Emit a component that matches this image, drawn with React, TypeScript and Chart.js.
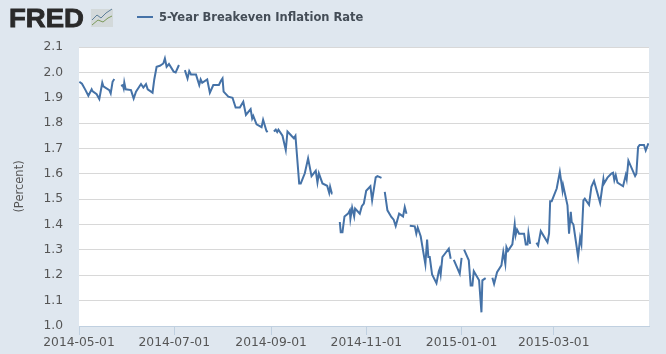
import React, { useEffect, useRef } from "react";
import { Chart, registerables } from "chart.js";

Chart.register(...registerables);

const seriesName = "5-Year Breakeven Inflation Rate";
const yTitle = "(Percent)";
const brand = "FRED";
const tickDays = [0, 61, 123, 184, 245, 304];
const tickLabels = ["2014-05-01", "2014-07-01", "2014-09-01", "2014-11-01", "2015-01-01", "2015-03-01"];

// [days since 2014-05-01, percent]; a null value breaks the line
const seg1 = [[0.2,1.963],[1.9,1.955],[4,1.932],[6,1.908],[8.1,1.933],[8.6,1.926],[11.3,1.914],[13,1.895],[14.9,1.959],[15.6,1.945],[19.4,1.93],[20.3,1.917],[21.5,1.963],[22.6,1.974]];
const seg2 = [[26.9,1.947],[28,1.95],[28.6,1.937],[29,1.96],[29.9,1.933],[33.3,1.93],[35,1.897],[36.5,1.924],[39.7,1.954],[41.2,1.94],[42.9,1.954],[44,1.933],[47.1,1.92],[48.2,1.972],[49.7,2.022],[51.8,2.026],[54,2.035],[55,2.055],[56.1,2.022],[57.6,2.033],[60.6,2.003],[61.9,2.0],[64,2.029]];
const seg3 = [[67.8,2.009],[69.5,1.976],[70.6,2.005],[71.7,1.992],[74.9,1.992],[77,1.95],[77.9,1.972],[78.9,1.959],[82.1,1.972],[83.8,1.92],[86,1.95],[89.6,1.95],[90.9,1.967],[91.9,1.976],[92.6,1.924],[95.6,1.904],[98.3,1.9],[100.3,1.861],[103,1.861],[105.2,1.884],[106.9,1.832],[109.9,1.855],[110.9,1.818],[111.6,1.828],[113.7,1.795],[116.9,1.784],[117.9,1.813],[120,1.77],[120.7,1.764]];
const seg4 = [[124.8,1.767],[126,1.774],[126.9,1.765],[127.7,1.774],[130.3,1.75],[132.4,1.694],[133.5,1.767],[136.5,1.747],[137.6,1.74],[138.6,1.75],[141,1.562],[142,1.562],[144.6,1.602],[146.7,1.661],[148.9,1.591],[151.6,1.612],[152.7,1.566],[153.6,1.602],[155.9,1.562],[158.9,1.553],[160.2,1.525],[160.8,1.549],[161.9,1.522],[162.3,1.522]];
const seg5 = [[167,1.41],[167.6,1.37],[168.7,1.37],[170,1.432],[172.3,1.443],[173.4,1.456],[173.8,1.423],[174.9,1.467],[176.2,1.432],[176.8,1.463],[179.8,1.443],[181.1,1.472],[182.4,1.483],[183.9,1.533],[186.6,1.551],[187.7,1.496],[190,1.586],[191.1,1.591],[193.7,1.584]];
const seg6 = [[195.8,1.529],[197.5,1.456],[200,1.43],[201.5,1.419],[202.8,1.394],[205,1.443],[207.5,1.432],[208.6,1.469],[209.7,1.443]];
const seg7 = [[211.8,1.395],[215,1.393],[216,1.364],[216.9,1.388],[218.8,1.354],[220.3,1.298],[221.8,1.243],[222.9,1.341],[223.7,1.272],[224.6,1.272],[226.1,1.203],[228.9,1.169],[230.4,1.216],[231,1.226],[231.6,1.203],[232.7,1.272],[236.8,1.305],[238,1.265]];
const seg8 = [[240,1.261],[243.8,1.206],[245,1.269]];
const seg9 = [[246.6,1.301],[249.6,1.259],[250.8,1.16],[251.9,1.16],[252.8,1.216],[256.2,1.18],[257.7,1.054],[258.3,1.18],[260.4,1.189]];
const seg10 = [[264.7,1.19],[265.8,1.166],[267.7,1.212],[270.5,1.239],[271.7,1.292],[273,1.245],[273.7,1.311],[274.7,1.296],[277.5,1.322],[279,1.401],[279.6,1.358],[280.5,1.38],[281.8,1.364],[285,1.364],[286.1,1.321],[287.2,1.321],[287.8,1.367],[288.9,1.324]];
const seg11 = [[292.9,1.328],[294,1.317],[295.7,1.374],[300,1.33],[301,1.364],[301.7,1.492],[302.7,1.492],[305.9,1.542],[307.9,1.608],[309.6,1.535],[310,1.555],[312.8,1.476],[313.8,1.364],[314.9,1.45],[315.5,1.41],[316.6,1.4],[319.6,1.273],[320.9,1.347],[321.7,1.323],[323,1.495],[323.9,1.502],[326.6,1.478],[328.1,1.549],[329.8,1.572],[333.7,1.486],[335.8,1.579],[336.2,1.562],[338.4,1.585],[340.9,1.601],[342,1.604],[342.8,1.575],[343.7,1.595],[344.8,1.565],[348.4,1.551],[350.1,1.595],[350.7,1.579],[351.8,1.652],[356.1,1.591],[356.9,1.6],[358,1.705],[359,1.714],[361.8,1.714],[362.9,1.692],[364.6,1.72]];
const segments = [seg1, seg2, seg3, seg4, seg5, seg6, seg7, seg8, seg9, seg10, seg11];

const points: { x: number; y: number | null }[] = [];
segments.forEach((s) => {
  s.forEach(([x, y]) => points.push({ x, y }));
  points.push({ x: s[s.length - 1][0] + 0.1, y: null });
});

const LINE = "#4572a7";
const BG = "#dfe7ef";
const TEXT = "#555555";
const FONT = "'DejaVu Sans'";

const header = {
  id: "header",
  afterDraw(chart: any) {
    const c = chart.ctx;
    c.save();
    c.textBaseline = "alphabetic";
    c.textAlign = "left";
    c.save();
    c.fillStyle = "#2a2a2a";
    c.strokeStyle = "#2a2a2a";
    c.lineWidth = 0.8;
    c.font = "bold 26.5px 'Liberation Sans'";
    c.translate(9, 27);
    c.scale(1.04, 1);
    c.fillText(brand, 0, 0);
    c.strokeText(brand, 0, 0);
    c.restore();
    // small chart icon next to the wordmark
    c.fillStyle = "#d3d9da";
    c.fillRect(91, 9, 22, 18);
    c.lineWidth = 1;
    c.strokeStyle = "#5d7f9a";
    c.beginPath();
    c.moveTo(92, 20); c.lineTo(97, 15); c.lineTo(101, 18); c.lineTo(106, 13); c.lineTo(112, 9);
    c.stroke();
    c.strokeStyle = "#7c9a5a";
    c.beginPath();
    c.moveTo(92, 25); c.lineTo(98, 20); c.lineTo(103, 22); c.lineTo(108, 18); c.lineTo(112, 16);
    c.stroke();
    c.strokeStyle = LINE;
    c.lineWidth = 2;
    c.beginPath();
    c.moveTo(137, 17); c.lineTo(153, 17);
    c.stroke();
    c.fillStyle = "#444d57";
    c.font = `bold 11.5px ${FONT}`;
    c.fillText(seriesName, 159, 21);
    c.restore();
  },
};

export default function App() {
  const ref = useRef<HTMLCanvasElement | null>(null);
  useEffect(() => {
    document.body.style.margin = "0";
    document.body.style.background = BG;
    const chart = new Chart(ref.current as HTMLCanvasElement, {
      type: "line",
      data: {
        datasets: [
          {
            label: seriesName,
            data: points as any,
            borderColor: LINE,
            borderWidth: 2,
            pointRadius: 0,
            spanGaps: false,
            tension: 0,
          },
        ],
      },
      options: {
        animation: false,
        responsive: false,
        parsing: false as any,
        layout: { padding: { top: 47, right: 17, left: 0, bottom: 0 } },
        plugins: { legend: { display: false }, tooltip: { enabled: false }, title: { display: false } },
        scales: {
          x: {
            type: "linear",
            min: 0,
            max: 365,
            afterBuildTicks(axis: any) {
              axis.ticks = tickDays.map((value) => ({ value }));
            },
            afterFit(axis: any) {
              axis.height = 28;
            },
            grid: { drawOnChartArea: false, drawTicks: true, tickLength: 9, color: "#c0d0e0" },
            border: { color: "#c0d0e0" },
            ticks: {
              autoSkip: false,
              maxRotation: 0,
              padding: 0,
              color: TEXT,
              font: { family: FONT, size: 12.3 },
              callback: (v: any) => tickLabels[tickDays.indexOf(Number(v))] ?? "",
            },
          },
          y: {
            min: 1.0,
            max: 2.1,
            afterFit(axis: any) {
              axis.width = 79;
            },
            grid: { color: "#d8d8d8", drawTicks: false, lineWidth: 1 },
            border: { display: false },
            title: {
              display: true,
              text: yTitle,
              color: TEXT,
              font: { family: FONT, size: 11.5 },
              padding: { top: 13, bottom: 0 },
            },
            ticks: {
              stepSize: 0.1,
              padding: 16,
              color: TEXT,
              font: { family: FONT, size: 12.3 },
              callback: (v: any) => Number(v).toFixed(1),
            },
          },
        },
      },
      plugins: [
        {
          id: "plotBg",
          beforeDraw(ch: any) {
            const { left, top, width, height } = ch.chartArea;
            ch.ctx.save();
            ch.ctx.fillStyle = "#ffffff";
            ch.ctx.fillRect(left, top, width, height);
            ch.ctx.restore();
          },
        },
        header,
      ],
    } as any);
    return () => chart.destroy();
  }, []);
  return (
    <div style={{ width: 666, height: 354, background: BG }}>
      <canvas ref={ref} width={666} height={354} style={{ display: "block" }} />
    </div>
  );
}
